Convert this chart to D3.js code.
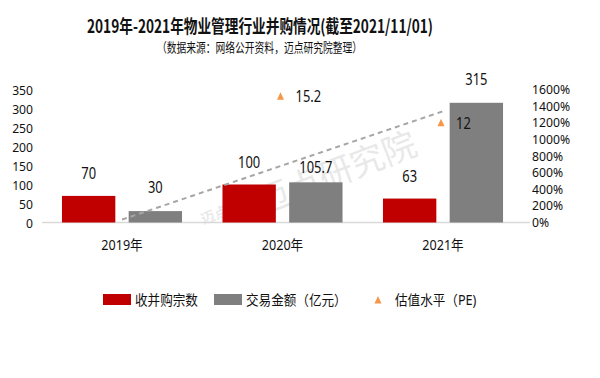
<!DOCTYPE html>
<meta charset="utf-8">
<style>
  body { margin: 0; background: #fff; }
  text { font-family: "Noto Sans", "Noto Sans CJK SC", sans-serif; fill: #111; }
</style>
<body>
<svg id="chart" width="600" height="378"></svg>
<script src="https://d3js.org/d3.v7.min.js"></script>
<script>

// data
var years = ["2019年", "2020年", "2021年"];
var deals = [70, 100, 63];          // 收并购宗数
var amount = [30, 105.7, 315];      // 交易金额（亿元）
var pe = [null, 15.2, 12];          // 估值水平（PE），plotted on the % axis
var leftTicks = [0, 50, 100, 150, 200, 250, 300, 350];
var rightTicks = [0, 200, 400, 600, 800, 1000, 1200, 1400, 1600];

var svg = d3.select("#chart");

// horizontally squeezed text, like the source image
function label(g, x, y, s, size, sx, anchor, weight) {
  return g.append("text")
    .attr("transform", "translate(" + x + "," + y + ") scale(" + sx + ",1)")
    .attr("text-anchor", anchor || "middle")
    .style("font-size", size + "px")
    .style("font-weight", weight || "normal")
    .text(s);
}

// scales
var x0 = d3.scaleBand().domain(years).range([41.75, 523.25])
  .paddingInner(0.252).paddingOuter(0.126);
var x1 = d3.scaleBand().domain(["deals", "amount"]).range([0, x0.bandwidth()])
  .paddingInner(0.2);
var yL = d3.scaleLinear().domain([0, 350]).range([222.5, 89.5]);
var yR = d3.scaleLinear().domain([0, 1600]).range([222.5, 89.5]);

// title
svg.append("text").attr("x", 260).attr("y", 33).attr("text-anchor", "middle")
  .attr("textLength", 346).attr("lengthAdjust", "spacingAndGlyphs")
  .style("font-size", "18px").style("font-weight", "bold")
  .style("font-family", "'Noto Sans CJK SC', sans-serif")
  .text("2019年-2021年物业管理行业并购情况(截至2021/11/01)");
svg.append("text").attr("x", 259.5).attr("y", 52).attr("text-anchor", "middle")
  .attr("textLength", 205).attr("lengthAdjust", "spacingAndGlyphs")
  .style("font-size", "13px")
  .style("font-family", "'Noto Sans CJK SC', sans-serif")
  .text("（数据来源：网络公开资料，迈点研究院整理）");

// watermark
var wm = svg.append("g").style("opacity", 0.09);
wm.append("text").attr("transform", "translate(340,184) rotate(-21)")
  .attr("text-anchor", "middle").style("font-size", "34px")
  .style("font-family", "'Noto Sans CJK SC', sans-serif").text("迈点研究院");
wm.append("text").attr("transform", "translate(236,212) rotate(-21)")
  .attr("text-anchor", "middle").style("font-size", "14px").style("font-weight", "bold")
  .style("font-family", "'Noto Sans CJK SC', sans-serif").text("迈点研究院");

// baseline
svg.append("line").attr("x1", 42).attr("x2", 530)
  .attr("y1", yL(0)).attr("y2", yL(0))
  .attr("stroke", "#d9d9d9").attr("stroke-width", 1.5);

// axis tick labels
var axL = svg.append("g");
leftTicks.forEach(function(t) {
  label(axL, 33, yL(t) + 5, t, 13.5, 0.9, "end");
});
var axR = svg.append("g");
rightTicks.forEach(function(t) {
  label(axR, 532, yR(t) + 4.5, t + "%", 12.2, 1, "start");
});

// category labels
var cats = svg.append("g");
years.forEach(function(y) {
  label(cats, x0(y) + x0.bandwidth() / 2, 250, y, 14, 0.9);
});

// bars
var bars = svg.append("g");
bars.selectAll("rect.deals").data(deals).enter().append("rect")
  .attr("class", "deals")
  .attr("x", function(d, i) { return x0(years[i]) + x1("deals"); })
  .attr("width", x1.bandwidth())
  .attr("y", function(d) { return yL(d); })
  .attr("height", function(d) { return yL(0) - yL(d); })
  .attr("fill", "#c00000");
bars.selectAll("rect.amount").data(amount).enter().append("rect")
  .attr("class", "amount")
  .attr("x", function(d, i) { return x0(years[i]) + x1("amount"); })
  .attr("width", x1.bandwidth())
  .attr("y", function(d) { return yL(d); })
  .attr("height", function(d) { return yL(0) - yL(d); })
  .attr("fill", "#7f7f7f");

// value labels
var lbl = svg.append("g");
var amountLift = [24, 15, 24];
deals.forEach(function(d, i) {
  label(lbl, x0(years[i]) + x1("deals") + x1.bandwidth() / 2, yL(d) - 17, d, 17, 0.76);
});
amount.forEach(function(d, i) {
  label(lbl, x0(years[i]) + x1("amount") + x1.bandwidth() / 2, yL(d) - amountLift[i] + 6, d, 17, 0.76);
});

// linear trend of 交易金额
var xs = amount.map(function(d, i) { return i; });
var mx = d3.mean(xs), my = d3.mean(amount);
var slope = d3.sum(xs, function(x, i) { return (x - mx) * (amount[i] - my); }) /
            d3.sum(xs, function(x) { return (x - mx) * (x - mx); });
var trend = xs.map(function(x) { return [x, my + slope * (x - mx)]; });
svg.append("path")
  .attr("d", d3.line()
    .x(function(d) { return x0(years[d[0]]) + x0.bandwidth() / 2; })
    .y(function(d) { return yL(d[1]); })(trend))
  .attr("fill", "none").attr("stroke", "#a6a6a6")
  .attr("stroke-width", 2).attr("stroke-dasharray", "5,4");

// PE markers
var tri = "M0,-4L3.5,3.5L-3.5,3.5Z";
var pts = svg.append("g");
pe.forEach(function(v, i) {
  if (v == null) return;
  var cx = x0(years[i]) + x0.bandwidth() / 2 - 2, cy = yR(v * 100);
  pts.append("path").attr("d", tri)
    .attr("transform", "translate(" + cx + "," + cy + ")")
    .attr("fill", "#f79646");
  label(pts, cx + 15, cy + 6, v, 17, 0.76, "start");
});

// legend
var leg = svg.append("g");
leg.append("rect").attr("x", 103).attr("y", 294).attr("width", 28).attr("height", 11).attr("fill", "#c00000");
label(leg, 135, 305, "收并购宗数", 14, 0.9, "start");
leg.append("rect").attr("x", 214).attr("y", 294).attr("width", 28).attr("height", 11).attr("fill", "#7f7f7f");
label(leg, 246, 305, "交易金额（亿元）", 14, 0.9, "start");
leg.append("path").attr("d", tri).attr("transform", "translate(378,300)").attr("fill", "#f79646");
label(leg, 395, 305, "估值水平（PE)", 14, 0.9, "start");

</script>
</body>
